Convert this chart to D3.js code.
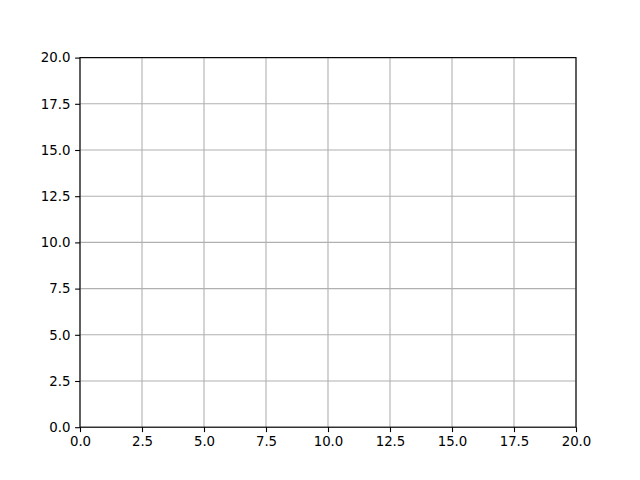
<!DOCTYPE html>
<html>
<head>
<meta charset="utf-8">
<script src="https://cdn.jsdelivr.net/npm/d3@7"></script>
<style>
  body { margin: 0; background: #fff; }
  svg { display: block; }
  .tick text { font-family: "DejaVu Sans", sans-serif; font-size: 13.33px; fill: #000; }
</style>
</head>
<body>
<svg id="chart" width="640" height="480"></svg>
<script>
// axis limits and tick values (empty axes, no series)
const xDomain = [0, 20];
const yDomain = [0, 20];
const xTicks = [0, 2.5, 5, 7.5, 10, 12.5, 15, 17.5, 20];
const yTicks = [0, 2.5, 5, 7.5, 10, 12.5, 15, 17.5, 20];

const W = 640, H = 480;
const margin = {left: 80, right: 64, top: 57.6, bottom: 52.8};
const svg = d3.select('#chart');

const x = d3.scaleLinear().domain(xDomain).range([margin.left, W - margin.right]);
const y = d3.scaleLinear().domain(yDomain).range([H - margin.bottom, margin.top]);

// grid
const grid = svg.append('g').attr('class', 'grid');
grid.selectAll('line.gx').data(xTicks).enter().append('line')
    .attr('x1', d => x(d)).attr('x2', d => x(d))
    .attr('y1', y(yDomain[0])).attr('y2', y(yDomain[1]))
    .attr('stroke', '#b0b0b0').attr('stroke-width', 1.1);
grid.selectAll('line.gy').data(yTicks).enter().append('line')
    .attr('y1', d => y(d)).attr('y2', d => y(d))
    .attr('x1', x(xDomain[0])).attr('x2', x(xDomain[1]))
    .attr('stroke', '#b0b0b0').attr('stroke-width', 1.1);

const fmt = d3.format('.1f');

const xAxis = svg.append('g')
    .attr('transform', `translate(0,${y(yDomain[0])})`)
    .call(d3.axisBottom(x).tickValues(xTicks).tickFormat(fmt).tickSizeInner(4.9).tickSizeOuter(0).tickPadding(4.7));
const yAxis = svg.append('g')
    .attr('transform', `translate(${x(xDomain[0])},0)`)
    .call(d3.axisLeft(y).tickValues(yTicks).tickFormat(fmt).tickSizeInner(4.9).tickSizeOuter(0).tickPadding(4.7));

[xAxis, yAxis].forEach(a => {
    a.select('.domain').remove();
    a.selectAll('.tick line').attr('stroke', '#000').attr('stroke-width', 1.1);
    a.attr('font-family', null).attr('font-size', null);
});

// frame
svg.append('rect')
    .attr('x', x(xDomain[0])).attr('y', y(yDomain[1]))
    .attr('width', x(xDomain[1]) - x(xDomain[0]))
    .attr('height', y(yDomain[0]) - y(yDomain[1]))
    .attr('fill', 'none').attr('stroke', '#000').attr('stroke-width', 1.1);
</script>
</body>
</html>
